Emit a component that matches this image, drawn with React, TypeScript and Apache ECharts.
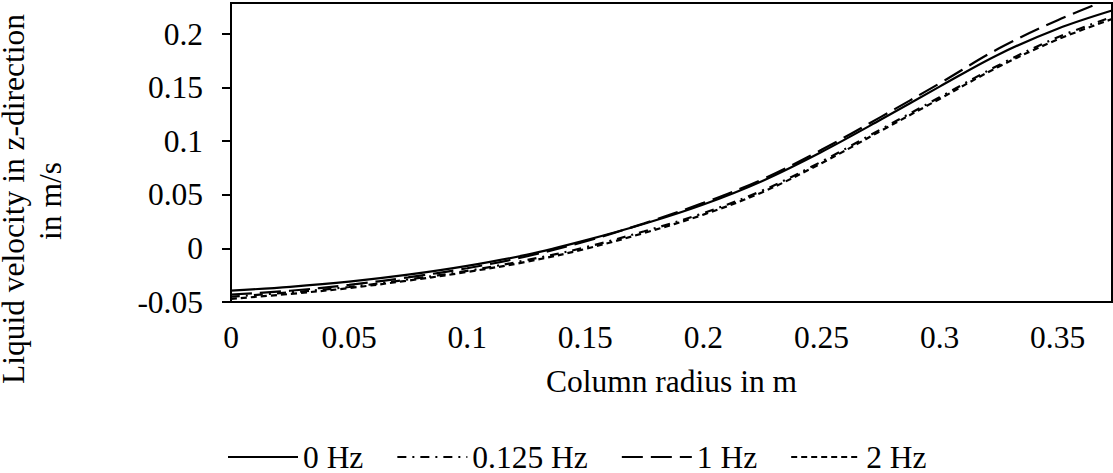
import React, { useEffect, useRef } from "react";
import * as echarts from "echarts";

const radius = [0, 0.025, 0.05, 0.075, 0.1, 0.125, 0.15, 0.175, 0.2, 0.225, 0.25, 0.275, 0.3, 0.325, 0.35, 0.373];
const v0Hz = [-0.0394, -0.0358, -0.031, -0.0245, -0.0163, -0.006, 0.0075, 0.023, 0.041, 0.063, 0.09, 0.12, 0.151, 0.181, 0.205, 0.222];
const v0125Hz = [-0.045, -0.041, -0.036, -0.029, -0.021, -0.011, 0.001, 0.016, 0.033, 0.054, 0.081, 0.111, 0.141, 0.171, 0.197, 0.216];
const v1Hz = [-0.043, -0.0395, -0.034, -0.027, -0.0185, -0.0075, 0.0065, 0.0235, 0.0425, 0.0645, 0.092, 0.1225, 0.154, 0.1865, 0.213, 0.2335];
const v2Hz = [-0.047, -0.0425, -0.037, -0.03, -0.022, -0.0125, -0.0005, 0.0145, 0.0315, 0.0525, 0.0795, 0.1095, 0.1395, 0.1695, 0.195, 0.214];

const xTicks = [0, 0.05, 0.1, 0.15, 0.2, 0.25, 0.3, 0.35];
const yTicks = [-0.05, 0, 0.05, 0.1, 0.15, 0.2];
const seriesNames = ["0 Hz", "0.125 Hz", "1 Hz", "2 Hz"];

const FONT = "'Times New Roman', 'Liberation Serif', serif";
const FS = 31.5;

const fmt = (v: number) => String(Math.round(v * 1000) / 1000);

export default function App() {
  const ref = useRef<HTMLDivElement>(null);
  useEffect(() => {
    if (!ref.current) return;
    const chart = echarts.init(ref.current, null, { renderer: "svg" });
    const pts = (vals: number[]) => radius.map((r, i) => [r, vals[i]]);
    const dashes: any[] = ["solid", [9, 6, 2, 6], [21, 8], [6, 4]];
    const vals = [v0Hz, v0125Hz, v1Hz, v2Hz];
    chart.setOption({
      animation: false,
      grid: {
        left: 231,
        top: 3,
        right: 1,
        bottom: 171,
        show: true,
        borderColor: "#000",
        borderWidth: 2,
        backgroundColor: "transparent",
      },
      legend: {
        left: 222,
        top: 436,
        itemWidth: 70,
        itemHeight: 14,
        itemGap: 33,
        itemStyle: { opacity: 0 },
        textStyle: { fontFamily: FONT, fontSize: FS, color: "#000" },
        data: seriesNames,
      },
      xAxis: {
        type: "value",
        min: 0,
        max: 0.373,
        interval: 0.05,
        name: "Column radius in m",
        nameLocation: "middle",
        nameGap: 63,
        nameTextStyle: { fontFamily: FONT, fontSize: FS, color: "#000" },
        axisLine: { show: true, onZero: false, lineStyle: { color: "#000", width: 2 } },
        axisTick: { show: false },
        splitLine: { show: false },
        axisLabel: {
          customValues: xTicks,
          margin: 19,
          fontFamily: FONT,
          fontSize: FS,
          color: "#000",
          formatter: (v: number) => fmt(v),
        },
      },
      yAxis: {
        type: "value",
        min: -0.05,
        max: 0.229,
        interval: 0.05,
        axisLine: { show: true, onZero: false, lineStyle: { color: "#000", width: 2 } },
        axisTick: {
          show: true,
          customValues: yTicks,
          length: 9,
          lineStyle: { color: "#000", width: 2 },
        },
        splitLine: { show: false },
        axisLabel: {
          customValues: yTicks,
          margin: 28,
          fontFamily: FONT,
          fontSize: FS,
          color: "#000",
          formatter: (v: number) => fmt(v),
        },
      },
      graphic: [
        {
          type: "text",
          x: 13,
          y: 199,
          rotation: Math.PI / 2,
          style: {
            text: "Liquid velocity in z-direction",
            fontFamily: FONT,
            fontSize: FS,
            fill: "#000",
            align: "center",
            verticalAlign: "middle",
          },
        },
        {
          type: "text",
          x: 50,
          y: 201,
          rotation: Math.PI / 2,
          style: {
            text: "in m/s",
            fontFamily: FONT,
            fontSize: FS,
            fill: "#000",
            align: "center",
            verticalAlign: "middle",
          },
        },
      ],
      series: seriesNames.map((name, i) => ({
        name,
        type: "line",
        data: pts(vals[i]),
        smooth: 0.35,
        symbol: "none",
        clip: true,
        lineStyle: { color: "#000", width: 2.2, type: dashes[i] },
        itemStyle: { color: "#000" },
      })),
    });
    return () => chart.dispose();
  }, []);
  return <div ref={ref} style={{ width: 1113, height: 473, position: "absolute", left: 0, top: 0 }} />;
}
